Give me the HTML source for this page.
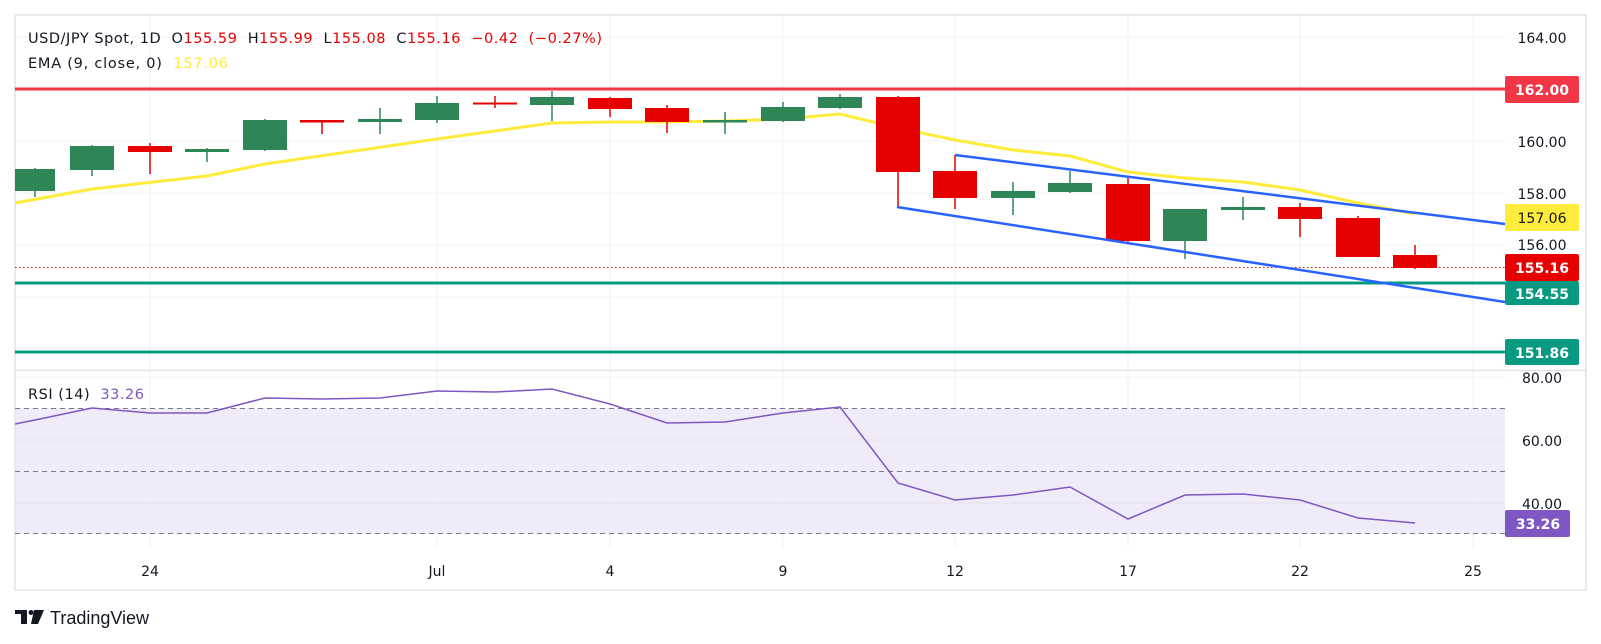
<!DOCTYPE html>
<html><head><meta charset="utf-8"><style>
html,body{margin:0;padding:0;background:#fff;}
svg{display:block;font-family:"DejaVu Sans","Liberation Sans",sans-serif;}
</style></head><body>
<svg width="1601" height="644" viewBox="0 0 1601 644" xmlns="http://www.w3.org/2000/svg">
<rect x="0" y="0" width="1601" height="644" fill="#fff"/>
<rect x="15" y="408" width="1490" height="126" fill="#efebf8"/>
<g stroke="#eef0f4" stroke-width="1">
<line x1="15" y1="37" x2="1505" y2="37"/><line x1="15" y1="89" x2="1505" y2="89"/>
<line x1="15" y1="141" x2="1505" y2="141"/><line x1="15" y1="193" x2="1505" y2="193"/>
<line x1="15" y1="245" x2="1505" y2="245"/><line x1="15" y1="297" x2="1505" y2="297"/>
<line x1="15" y1="348" x2="1505" y2="348"/>
<line x1="15" y1="377" x2="1505" y2="377"/><line x1="15" y1="440" x2="1505" y2="440" stroke="#e4e0ee"/><line x1="15" y1="503" x2="1505" y2="503" stroke="#e4e0ee"/>
<line x1="150" y1="15" x2="150" y2="548"/><line x1="437" y1="15" x2="437" y2="548"/>
<line x1="610" y1="15" x2="610" y2="548"/><line x1="783" y1="15" x2="783" y2="548"/>
<line x1="955" y1="15" x2="955" y2="548"/><line x1="1128" y1="15" x2="1128" y2="548"/>
<line x1="1300" y1="15" x2="1300" y2="548"/><line x1="1473" y1="15" x2="1473" y2="548"/>
</g>
<rect x="15" y="15" width="1571" height="575" fill="none" stroke="#e0e3eb" stroke-width="1.5"/>
<line x1="15" y1="370.5" x2="1586" y2="370.5" stroke="#e0e3eb" stroke-width="1.5"/>
<g stroke="#787b86" stroke-width="1" stroke-dasharray="5,4">
<line x1="15" y1="408.5" x2="1505" y2="408.5"/><line x1="15" y1="471.5" x2="1505" y2="471.5"/><line x1="15" y1="533.5" x2="1505" y2="533.5"/>
</g>
<polyline fill="none" stroke="#7e57c2" stroke-width="1.5" points="15,424 35,420 92,408 150,413 207,413 265,398 322,399 380,398 437,391 495,392 552,389 610,404 667,423 725,422 783,413 840,407 898,483 955,500 1013,495 1070,487 1128,519 1185,495 1243,494 1300,500 1358,518 1415,523"/>
<line x1="15" y1="89" x2="1505" y2="89" stroke="#f23645" stroke-width="3"/>
<line x1="15" y1="283" x2="1505" y2="283" stroke="#089981" stroke-width="3"/>
<line x1="15" y1="352" x2="1505" y2="352" stroke="#089981" stroke-width="3"/>
<line x1="15" y1="267.5" x2="1505" y2="267.5" stroke="#e60000" stroke-width="1" stroke-dasharray="1.5,2.5"/>
<polyline fill="none" stroke="#ffeb3b" stroke-width="3" points="15,203 92,189 207,176 265,164 437,139 552,123 610,122 667,122 725,121 783,119 840,114 898,128 955,140 1013,150 1070,156 1128,172 1185,178 1243,182 1300,190 1358,203 1415,214"/>
<g stroke-width="1.5">
<g stroke="#2e8656" fill="#2e8656">
<line x1="35" y1="168" x2="35" y2="197"/><rect x="15" y="169" width="40" height="22" stroke="none"/>
<line x1="92" y1="145" x2="92" y2="176"/><rect x="70" y="146" width="44" height="24" stroke="none"/>
<line x1="207" y1="148" x2="207" y2="162"/><rect x="185" y="149" width="44" height="3" stroke="none"/>
<line x1="265" y1="119" x2="265" y2="151"/><rect x="243" y="120" width="44" height="30" stroke="none"/>
<line x1="380" y1="108" x2="380" y2="134"/><rect x="358" y="119" width="44" height="3" stroke="none"/>
<line x1="437" y1="96" x2="437" y2="123"/><rect x="415" y="103" width="44" height="17" stroke="none"/>
<line x1="552" y1="91" x2="552" y2="121"/><rect x="530" y="97" width="44" height="8" stroke="none"/>
<line x1="725" y1="112" x2="725" y2="134"/><rect x="703" y="120" width="44" height="2.5" stroke="none"/>
<line x1="783" y1="102" x2="783" y2="122"/><rect x="761" y="107" width="44" height="14" stroke="none"/>
<line x1="840" y1="94" x2="840" y2="109"/><rect x="818" y="97" width="44" height="11" stroke="none"/>
<line x1="1013" y1="182" x2="1013" y2="215"/><rect x="991" y="191" width="44" height="7" stroke="none"/>
<line x1="1070" y1="171" x2="1070" y2="193"/><rect x="1048" y="183" width="44" height="9" stroke="none"/>
<line x1="1185" y1="209" x2="1185" y2="259"/><rect x="1163" y="209" width="44" height="32" stroke="none"/>
<line x1="1243" y1="197" x2="1243" y2="220"/><rect x="1221" y="207" width="44" height="3" stroke="none"/>
</g>
<g stroke="#e60000" fill="#e60000">
<line x1="150" y1="143" x2="150" y2="174"/><rect x="128" y="146" width="44" height="6" stroke="none"/>
<line x1="322" y1="120" x2="322" y2="134"/><rect x="300" y="120" width="44" height="2.5" stroke="none"/>
<line x1="495" y1="96" x2="495" y2="108"/><rect x="473" y="102.5" width="44" height="2" stroke="none"/>
<line x1="610" y1="97" x2="610" y2="117"/><rect x="588" y="98" width="44" height="11" stroke="none"/>
<line x1="667" y1="105" x2="667" y2="133"/><rect x="645" y="108" width="44" height="14" stroke="none"/>
<line x1="898" y1="96" x2="898" y2="208"/><rect x="876" y="97" width="44" height="75" stroke="none"/>
<line x1="955" y1="155" x2="955" y2="209"/><rect x="933" y="171" width="44" height="27" stroke="none"/>
<line x1="1128" y1="177" x2="1128" y2="243"/><rect x="1106" y="184" width="44" height="57" stroke="none"/>
<line x1="1300" y1="203" x2="1300" y2="237"/><rect x="1278" y="207" width="44" height="12" stroke="none"/>
<line x1="1358" y1="216" x2="1358" y2="257"/><rect x="1336" y="218" width="44" height="39" stroke="none"/>
<line x1="1415" y1="245" x2="1415" y2="269"/><rect x="1393" y="255" width="44" height="13" stroke="none"/>
</g>
</g>
<line x1="955" y1="155" x2="1505" y2="224" stroke="#2962ff" stroke-width="2.5"/>
<line x1="897" y1="207" x2="1505" y2="302" stroke="#2962ff" stroke-width="2.5"/>
<g font-size="14" fill="#131722" text-anchor="middle">
<text x="1542" y="43">164.00</text>
<text x="1542" y="147">160.00</text>
<text x="1542" y="199">158.00</text>
<text x="1542" y="250">156.00</text>
<text x="1542" y="383">80.00</text>
<text x="1542" y="446">60.00</text>
<text x="1542" y="509">40.00</text>
</g>
<rect x="1505" y="76" width="74" height="27" rx="2" fill="#f23645"/>
<rect x="1505" y="204" width="74" height="27" rx="2" fill="#ffeb3b"/>
<rect x="1505" y="254" width="74" height="27" rx="2" fill="#e60000"/>
<rect x="1505" y="281" width="74" height="24" rx="2" fill="#089981"/>
<rect x="1505" y="339" width="74" height="26" rx="2" fill="#089981"/>
<rect x="1505" y="510" width="65" height="27" rx="2" fill="#7e57c2"/>
<g font-size="14" font-weight="bold" text-anchor="middle" fill="#fff">
<text x="1542" y="95">162.00</text>
<text x="1542" y="223" fill="#131722" font-weight="normal">157.06</text>
<text x="1542" y="273">155.16</text>
<text x="1542" y="299">154.55</text>
<text x="1542" y="358">151.86</text>
<text x="1538" y="529">33.26</text>
</g>
<g font-size="14" fill="#131722" text-anchor="middle">
<text x="150" y="576">24</text><text x="437" y="576">Jul</text><text x="610" y="576">4</text>
<text x="783" y="576">9</text><text x="955" y="576">12</text><text x="1128" y="576">17</text>
<text x="1300" y="576">22</text><text x="1473" y="576">25</text>
</g>
<text x="28" y="43" font-size="14.5" fill="#131722" xml:space="preserve" textLength="574" lengthAdjust="spacing">USD/JPY Spot, 1D  O<tspan fill="#e60000">155.59</tspan>  H<tspan fill="#e60000">155.99</tspan>  L<tspan fill="#e60000">155.08</tspan>  C<tspan fill="#e60000">155.16</tspan>  <tspan fill="#e60000">−0.42  (−0.27%)</tspan></text>
<text x="28" y="68" font-size="14.5" fill="#131722" xml:space="preserve" textLength="200" lengthAdjust="spacing">EMA (9, close, 0)  <tspan fill="#ffeb3b">157.06</tspan></text>
<text x="28" y="399" font-size="14.5" fill="#131722" xml:space="preserve" textLength="116" lengthAdjust="spacing">RSI (14)  <tspan fill="#7e57c2">33.26</tspan></text>
<g fill="#131722">
<rect x="15" y="610" width="12" height="4"/><rect x="21" y="610" width="6" height="14"/>
<circle cx="31" cy="612.5" r="2.5"/>
<polygon points="34,610 44,610 38,624 31,624"/>
</g>
<text x="50" y="624" font-size="18" fill="#131722" font-family="Liberation Sans, sans-serif">TradingView</text>
</svg>
</body></html>
